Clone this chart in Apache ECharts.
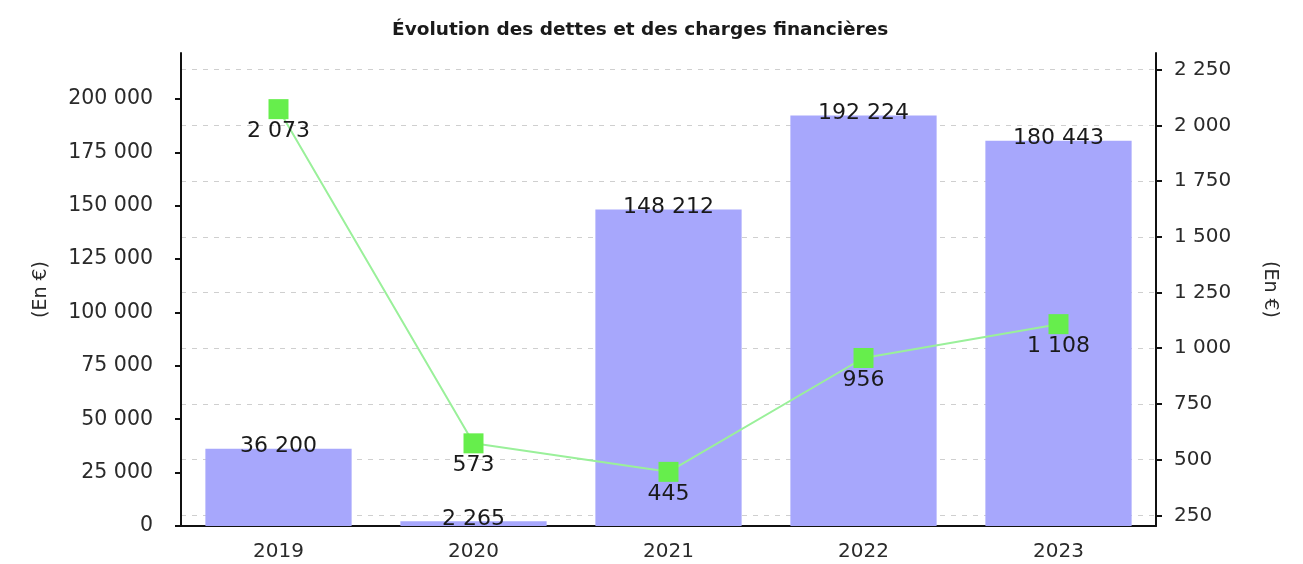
<!DOCTYPE html>
<html>
<head>
<meta charset="utf-8">
<script src="https://cdn.jsdelivr.net/npm/echarts@6/dist/echarts.min.js"></script>
<style>
  html, body { margin: 0; padding: 0; background: #fff; }
  #main { width: 1303px; height: 564px; }
</style>
</head>
<body>
<div id="main"></div>
<script>
    // données
    var annees = ['2019', '2020', '2021', '2022', '2023'];
    var dettes = [36200, 2265, 148212, 192224, 180443];
    var charges = [2073, 573, 445, 956, 1108];
    var ticksGauche = [0, 25000, 50000, 75000, 100000, 125000, 150000, 175000, 200000];
    var ticksDroite = [250, 500, 750, 1000, 1250, 1500, 1750, 2000, 2250];

    function fmt(v) {
        return String(v).replace(/\B(?=(\d{3})+(?!\d))/g, ' ');
    }

    var police = 'DejaVu Sans';
    var myChart = echarts.init(document.getElementById('main'));

    var option = {
        animation: false,
        title: {
            text: 'Évolution des dettes et des charges financières',
            left: 387,
            top: 16,
            textStyle: { fontFamily: police, fontSize: 18.5, fontWeight: 'bold', color: '#1a1a1a' }
        },
        grid: { left: 181, right: 147, top: 53, bottom: 38 },
        xAxis: {
            type: 'category',
            data: annees,
            axisLine: { lineStyle: { color: '#111', width: 2 } },
            axisTick: { show: false },
            axisLabel: { fontFamily: police, fontSize: 20, color: '#2a2a2a', margin: 16 }
        },
        yAxis: [
            {
                type: 'value',
                min: 0,
                max: 221500,
                name: '(En €)',
                nameLocation: 'middle',
                nameGap: 130,
                nameTextStyle: { fontFamily: police, fontSize: 19, color: '#2a2a2a' },
                axisLine: { show: true, lineStyle: { color: '#111', width: 2 } },
                axisTick: { show: true, length: 6, customValues: ticksGauche, lineStyle: { width: 2 } },
                axisLabel: { fontFamily: police, fontSize: 20.5, color: '#2a2a2a', margin: 28,
                    customValues: ticksGauche, formatter: fmt },
                splitLine: { show: false }
            },
            {
                type: 'value',
                min: 202,
                max: 2325,
                name: '(En €)',
                nameLocation: 'middle',
                nameRotate: -90,
                nameGap: 104,
                nameTextStyle: { fontFamily: police, fontSize: 19, color: '#2a2a2a' },
                axisLine: { show: true, lineStyle: { color: '#111', width: 2 } },
                axisTick: { show: true, length: 6, customValues: ticksDroite, lineStyle: { width: 2 } },
                axisLabel: { fontFamily: police, fontSize: 20, color: '#2a2a2a', margin: 18,
                    customValues: ticksDroite, formatter: fmt },
                splitLine: { show: true, lineStyle: { color: '#cfcfcf', type: [5, 6], width: 1 } }
            }
        ],
        series: [
            {
                name: 'Dettes',
                type: 'bar',
                yAxisIndex: 0,
                barWidth: '75%',
                itemStyle: { color: '#a7a7fc' },
                label: {
                    show: true,
                    position: 'top',
                    offset: [0, 14],
                    fontFamily: police,
                    fontSize: 22,
                    color: '#1a1a1a',
                    formatter: function (p) { return fmt(p.value); }
                },
                data: dettes
            },
            {
                name: 'Charges financières',
                type: 'line',
                yAxisIndex: 1,
                symbol: 'rect',
                symbolSize: 20,
                lineStyle: { color: '#9af09a', width: 2 },
                itemStyle: { color: '#66ee4c' },
                label: {
                    show: true,
                    position: 'bottom',
                    distance: 1,
                    fontFamily: police,
                    fontSize: 22,
                    color: '#1a1a1a',
                    formatter: function (p) { return fmt(p.value); }
                },
                data: charges
            }
        ]
    };

    myChart.setOption(option);
</script>
</body>
</html>
